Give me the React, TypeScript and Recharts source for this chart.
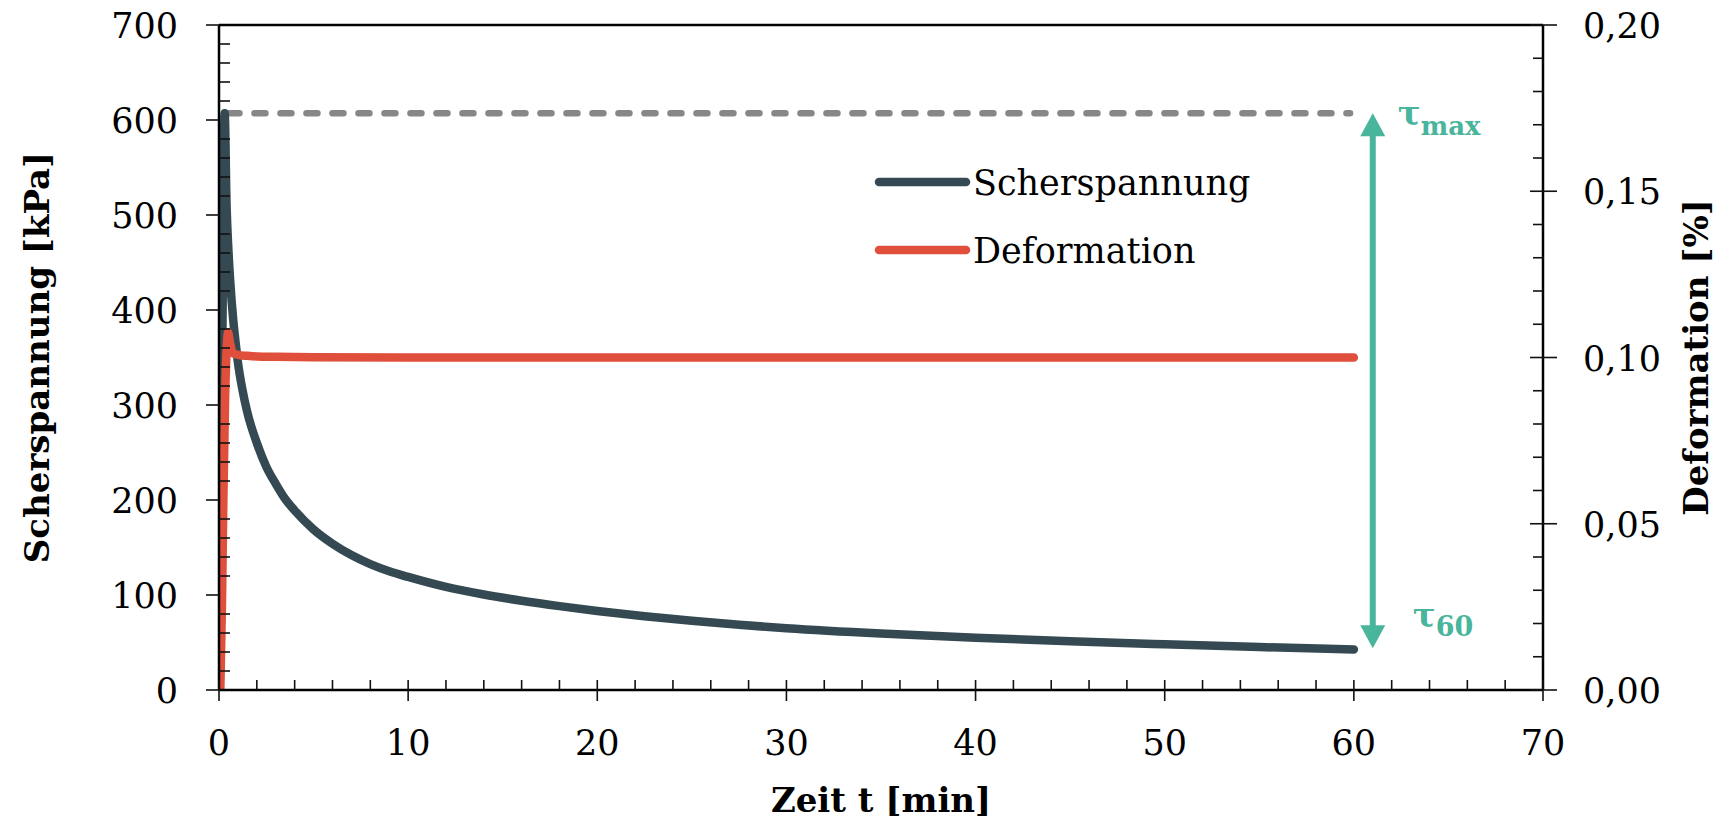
import React from 'react';
import { LineChart, Line, XAxis, YAxis, ReferenceLine, Legend } from 'recharts';

// ---- data ----
const scherTime = [0, 0.15, 0.3, 0.4, 0.5, 0.6, 0.75, 0.9, 1, 1.25, 1.5, 2, 2.5, 3, 3.5, 4, 5, 6, 7, 8, 9, 10, 12, 14, 16, 18, 20, 22.5, 25, 27.5, 30, 35, 40, 45, 50, 55, 60];
const scherValue = [0, 300, 607, 510, 462, 428, 390, 362, 345, 315, 292, 260, 235, 217, 201, 189, 169, 154, 142, 132.5, 125, 119, 108.5, 100.5, 94, 88.3, 83.2, 77.6, 72.8, 68.6, 65, 59.4, 55, 51.3, 48.1, 45.2, 42.6];

const defTime = [0.07, 0.16, 0.23, 0.32, 0.42, 0.48, 0.58, 0.74, 1, 1.5, 2, 3, 5, 10, 20, 30, 40, 50, 60];
const defValue = [0, 0.027, 0.057, 0.087, 0.104, 0.1075, 0.1045, 0.1013, 0.1008, 0.1005, 0.1003, 0.1002, 0.1001, 0.1, 0.1, 0.1, 0.1, 0.1, 0.1];

const tauMax = 607;
const tau60 = 44;
const tauMaxStart = 0.5;
const tauMaxEnd = 59.8;
const arrowTime = 61;

const xTicks = Array.from({ length: 36 }, (_, i) => i * 2); // 0..70 step 2
const yLeftTicks = Array.from({ length: 36 }, (_, i) => i * 20); // 0..700 step 20
const yRightTicks = Array.from({ length: 21 }, (_, i) => i / 100); // 0..0.20 step 0.01

const seriesNames = ['Scherspannung', 'Deformation'];
const axisTitles = { x: 'Zeit t [min]', left: 'Scherspannung [kPa]', right: 'Deformation [%]' };

const scherData = scherTime.map((t, i) => ({ t, v: scherValue[i] }));
const defData = defTime.map((t, i) => ({ t, d: defValue[i] }));

// ---- style ----
const FONT = "'DejaVu Serif', serif";
const DARK = '#344951';
const RED = '#E04E3C';
const TEAL = '#48B59C';
const TICK_FS = 35;

const XTick = (props: any) => {
  const { x, y, payload } = props;
  const v = payload.value;
  const major = Math.round(v) % 10 === 0;
  return (
    <g>
      <line x1={x} x2={x} y1={y - 10} y2={major ? y + 11 : y} stroke="#111" strokeWidth={1.6} />
      {major && (
        <text x={x} y={y + 65} textAnchor="middle" fontFamily={FONT} fontSize={TICK_FS} fill="#000">
          {v}
        </text>
      )}
    </g>
  );
};

const LeftTick = (props: any) => {
  const { x, y, payload } = props;
  const v = payload.value;
  const major = Math.round(v) % 100 === 0;
  return (
    <g>
      {major ? (
        <line x1={x - 13} x2={x} y1={y} y2={y} stroke="#111" strokeWidth={1.6} />
      ) : (
        <line x1={x} x2={x + 11} y1={y} y2={y} stroke="#111" strokeWidth={1.6} />
      )}
      {major && (
        <text x={x - 41} y={y + 13} textAnchor="end" fontFamily={FONT} fontSize={TICK_FS} fill="#000">
          {v}
        </text>
      )}
    </g>
  );
};

const RightTick = (props: any) => {
  const { x, y, payload } = props;
  const v = payload.value;
  const major = Math.round(v * 100) % 5 === 0;
  return (
    <g>
      {major ? (
        <line x1={x - 13} x2={x + 14} y1={y} y2={y} stroke="#111" strokeWidth={1.6} />
      ) : (
        <line x1={x - 10} x2={x} y1={y} y2={y} stroke="#111" strokeWidth={1.6} />
      )}
      {major && (
        <text x={x + 40} y={y + 13} textAnchor="start" fontFamily={FONT} fontSize={TICK_FS} fill="#000">
          {v.toFixed(2).replace('.', ',')}
        </text>
      )}
    </g>
  );
};

const XTitle = (props: any) => {
  const vb = props.viewBox || { x: 219, y: 690, width: 1324, height: 131 };
  return (
    <text x={vb.x + vb.width / 2} y={vb.y + 122} textAnchor="middle" fontFamily={FONT} fontWeight="bold" fontSize={34} fill="#000">
      {axisTitles.x}
    </text>
  );
};

const LeftTitle = (props: any) => {
  const vb = props.viewBox || { x: 0, y: 25, width: 219, height: 665 };
  const cx = vb.x + 49;
  const cy = vb.y + vb.height / 2;
  return (
    <text x={cx} y={cy} transform={`rotate(-90 ${cx} ${cy})`} textAnchor="middle" fontFamily={FONT} fontWeight="bold" fontSize={34} fill="#000">
      {axisTitles.left}
    </text>
  );
};

const RightTitle = (props: any) => {
  const vb = props.viewBox || { x: 1543, y: 25, width: 180, height: 665 };
  const cx = vb.x + 165;
  const cy = vb.y + vb.height / 2;
  return (
    <text x={cx} y={cy} transform={`rotate(-90 ${cx} ${cy})`} textAnchor="middle" fontFamily={FONT} fontWeight="bold" fontSize={34} fill="#000">
      {axisTitles.right}
    </text>
  );
};

const ArrowShape = (props: any) => {
  const { x1, y1, y2 } = props;
  const x = x1;
  const top = Math.min(y1, y2);
  const bot = Math.max(y1, y2);
  const hw = 12.5;
  const hh = 23;
  return (
    <g>
      <line x1={x} x2={x} y1={top + hh - 2} y2={bot - hh + 2} stroke={TEAL} strokeWidth={6} />
      <polygon points={`${x},${top} ${x - hw},${top + hh} ${x + hw},${top + hh}`} fill={TEAL} />
      <polygon points={`${x},${bot} ${x - hw},${bot - hh} ${x + hw},${bot - hh}`} fill={TEAL} />
      <text x={x + 25} y={top + 12} fontFamily={FONT} fontWeight="bold" fill={TEAL} fontSize={34}>
        τ<tspan fontSize={26} dy={10}>max</tspan>
      </text>
      <text x={x + 40} y={bot - 21} fontFamily={FONT} fontWeight="bold" fill={TEAL} fontSize={34}>
        τ<tspan fontSize={27} dy={9}>60</tspan>
      </text>
    </g>
  );
};

const orderOf = (name: string) => {
  const i = seriesNames.indexOf(name);
  return i < 0 ? 99 : i;
};

const renderLegend = (props: any) => {
  const payload = [...(props.payload || [])].sort((a: any, b: any) => orderOf(a.value) - orderOf(b.value));
  return (
    <svg width={420} height={140} style={{ overflow: 'visible' }}>
      {payload.map((item: any, i: number) => (
        <g key={item.value}>
          <line x1={10} x2={97} y1={32 + i * 68} y2={32 + i * 68} stroke={item.color} strokeWidth={8.5} strokeLinecap="round" />
          <text x={104} y={45 + i * 68} fontFamily={FONT} fontSize={35} fill="#000">
            {item.value}
          </text>
        </g>
      ))}
    </svg>
  );
};

export default function App() {
  return (
    <div style={{ position: 'absolute', left: 0, top: 0, width: 1723, height: 821, background: '#fff' }}>
      <LineChart width={1723} height={821} margin={{ top: 25, right: 0, bottom: 0, left: 0 }}>
        <XAxis
          xAxisId="x"
          dataKey="t"
          type="number"
          domain={[0, 70]}
          ticks={xTicks}
          interval={0}
          height={131}
          tickSize={0}
          tickMargin={0}
          tickLine={false}
          tick={<XTick />}
          axisLine={{ stroke: '#000', strokeWidth: 2.5 }}
          allowDataOverflow
          label={{ content: <XTitle /> }}
        />
        <YAxis
          yAxisId="left"
          orientation="left"
          type="number"
          domain={[0, 700]}
          ticks={yLeftTicks}
          interval={0}
          width={219}
          tickSize={0}
          tickMargin={0}
          tickLine={false}
          tick={<LeftTick />}
          axisLine={{ stroke: '#000', strokeWidth: 2.5 }}
          allowDataOverflow
          label={{ content: <LeftTitle /> }}
        />
        <YAxis
          yAxisId="right"
          orientation="right"
          type="number"
          domain={[0, 0.2]}
          ticks={yRightTicks}
          interval={0}
          width={180}
          tickSize={0}
          tickMargin={0}
          tickLine={false}
          tick={<RightTick />}
          axisLine={{ stroke: '#000', strokeWidth: 2.5 }}
          allowDataOverflow
          label={{ content: <RightTitle /> }}
        />
        <ReferenceLine xAxisId="x" yAxisId="left" y={700} stroke="#000" strokeWidth={2.5} />
        <ReferenceLine
          xAxisId="x"
          yAxisId="left"
          segment={[{ x: tauMaxStart, y: tauMax }, { x: tauMaxEnd, y: tauMax }]}
          stroke="#878787"
          strokeWidth={6.5}
          strokeDasharray="11 15"
          strokeLinecap="round"
        />
        <Line
          xAxisId="x"
          yAxisId="left"
          data={scherData}
          dataKey="v"
          name={seriesNames[0]}
          type="monotone"
          stroke={DARK}
          strokeWidth={8.5}
          strokeLinecap="round"
          strokeLinejoin="round"
          dot={false}
          activeDot={false}
          isAnimationActive={false}
        />
        <Line
          xAxisId="x"
          yAxisId="right"
          data={defData}
          dataKey="d"
          name={seriesNames[1]}
          type="monotone"
          stroke={RED}
          strokeWidth={8.5}
          strokeLinecap="round"
          strokeLinejoin="round"
          dot={false}
          activeDot={false}
          isAnimationActive={false}
        />
        <ReferenceLine
          xAxisId="x"
          yAxisId="left"
          segment={[{ x: arrowTime, y: tauMax }, { x: arrowTime, y: tau60 }]}
          stroke={TEAL}
          shape={<ArrowShape />}
        />
        <Legend
          layout="horizontal"
          verticalAlign="middle"
          align="center"
          itemSorter={(item: any) => orderOf(item.value)}
          content={renderLegend}
          wrapperStyle={{ left: 869, top: 150, width: 420, height: 140 }}
        />
      </LineChart>
    </div>
  );
}
